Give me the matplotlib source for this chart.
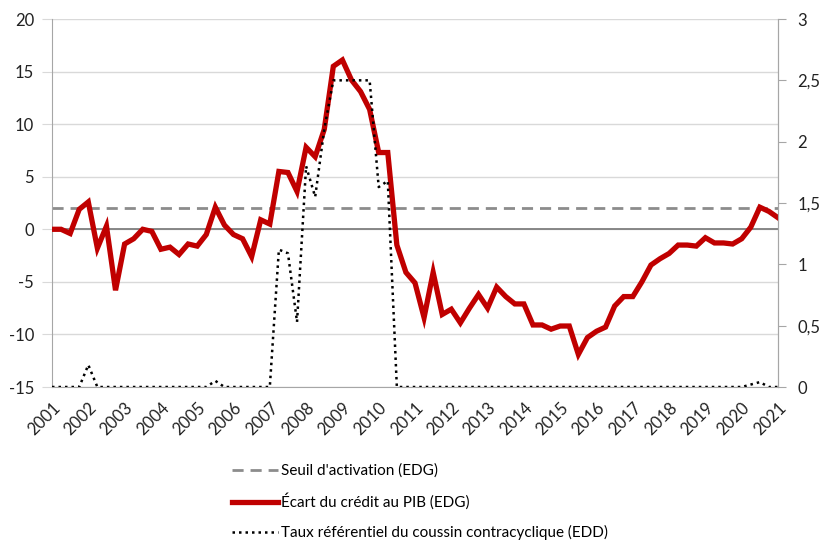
import matplotlib.pyplot as plt
import numpy as np

plt.rcParams['font.family'] = ['Lato', 'DejaVu Sans']
plt.rcParams['axes.unicode_minus'] = False

years = list(range(2001, 2022))

# quarterly, 2001Q1 .. 2021Q1
credit_gap = [
    0.0, 0.0, -0.4, 1.9, 2.6, -1.8, 0.3, -5.8, -1.4, -0.9,
    0.0, -0.2, -1.9, -1.7, -2.4, -1.4, -1.6, -0.5, 2.1, 0.4,
    -0.5, -0.9, -2.6, 0.9, 0.5, 5.5, 5.4, 3.6, 7.8, 6.9,
    9.5, 15.5, 16.1, 14.2, 13.1, 11.4, 7.3, 7.3, -1.5, -4.1,
    -5.1, -8.4, -4.1, -8.1, -7.6, -8.9, -7.5, -6.2, -7.5, -5.5,
    -6.4, -7.1, -7.1, -9.1, -9.1, -9.5, -9.2, -9.2, -11.9, -10.3,
    -9.7, -9.3, -7.3, -6.4, -6.4, -5.0, -3.4, -2.8, -2.3, -1.5,
    -1.5, -1.6, -0.8, -1.3, -1.3, -1.4, -0.9, 0.2, 2.1, 1.7,
    1.1,
]

buffer_rate = [
    0, 0, 0, 0, 0.18, 0, 0, 0, 0, 0,
    0, 0, 0, 0, 0, 0, 0, 0, 0.05, 0,
    0, 0, 0, 0, 0, 1.12, 1.09, 0.53, 1.8, 1.55,
    2.1, 2.5, 2.5, 2.5, 2.5, 2.5, 1.63, 1.68, 0, 0,
    0, 0, 0, 0, 0, 0, 0, 0, 0, 0,
    0, 0, 0, 0, 0, 0, 0, 0, 0, 0,
    0, 0, 0, 0, 0, 0, 0, 0, 0, 0,
    0, 0, 0, 0, 0, 0, 0, 0.02, 0.04, 0,
    0,
]

threshold = 2.0

x = np.arange(len(credit_gap))

fig = plt.figure(figsize=(8.23, 5.42), dpi=100)
ax = fig.add_axes([52 / 823, 1 - 387 / 542, 726 / 823, 368 / 542])
ax2 = ax.twinx()

grid_c = '#d9d9d9'
spine_c = '#a6a6a6'

ax.set_ylim(-15, 20)
ax.set_yticks(range(-15, 21, 5))
ax.set_xlim(0, len(x) - 1)
ax.grid(axis='y', color=grid_c, lw=1)
ax.set_axisbelow(True)
ax.axhline(0, color='#7f7f7f', lw=1.3, zorder=1)

l_thr, = ax.plot(x, [threshold] * len(x), ls=(0, (4, 2.5)), color='#8c8c8c', lw=2,
                 label="Seuil d'activation (EDG)")
l_gap, = ax.plot(x, credit_gap, color='#c00000', lw=3.8, solid_joinstyle='miter',
                 label='Écart du crédit au PIB (EDG)', zorder=3)
l_buf, = ax2.plot(x, buffer_rate, color='black', lw=1.8, ls=(0, (1, 1.6)),
                  label='Taux référentiel du coussin contracyclique (EDD)', zorder=2)

ax2.set_ylim(0, 3)
ax2.set_yticks([0, 0.5, 1, 1.5, 2, 2.5, 3])
ax2.set_yticklabels(['0', '0,5', '1', '1,5', '2', '2,5', '3'])

ax.set_xticks(x[::4])
ax.set_xticklabels([str(y) for y in years], rotation=45, ha='right',
                   rotation_mode='anchor')

for a in (ax, ax2):
    a.spines['top'].set_visible(False)
    for s in ('left', 'right', 'bottom'):
        a.spines[s].set_color(spine_c)
    a.tick_params(labelsize=12, colors='#222222')
ax.tick_params(axis='y', length=7, color=grid_c, pad=6)
ax.tick_params(axis='x', length=0, pad=9)
ax2.tick_params(axis='y', length=6, color=spine_c, pad=8)
ax2.spines['left'].set_visible(False)
ax2.spines['bottom'].set_visible(False)

fig.legend(handles=[l_thr, l_gap, l_buf], loc='upper left',
           bbox_to_anchor=(218 / 823, 1 - 450 / 542), frameon=False,
           fontsize=11, handlelength=3.0, handletextpad=0.25, labelspacing=1.0)

fig.savefig('out.png', dpi=100)
